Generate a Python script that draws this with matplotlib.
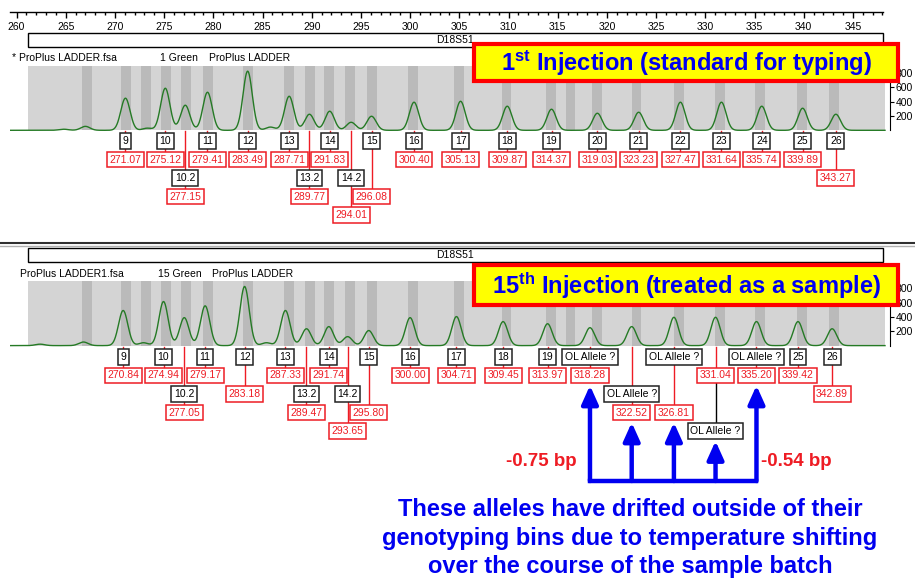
import matplotlib
matplotlib.use("Agg")
import numpy as np
from matplotlib import pyplot as plt
from matplotlib.patches import Rectangle
from matplotlib.transforms import blended_transform_factory
from matplotlib.ticker import MultipleLocator

plt.rcParams['font.family'] = ['Liberation Sans', 'DejaVu Sans']
plt.rcParams['mathtext.fontset'] = 'custom'
plt.rcParams['mathtext.rm'] = 'Liberation Sans:bold'
plt.rcParams['mathtext.it'] = 'Liberation Sans:bold'
plt.rcParams['mathtext.bf'] = 'Liberation Sans:bold'

# ---- data ----
marker = "D18S51"

ladder1_alleles = ["9", "10", "10.2", "11", "12", "13", "13.2", "14", "14.2", "15", "16",
                   "17", "18", "19", "20", "21", "22", "23", "24", "25", "26"]
ladder1_sizes = [271.07, 275.12, 277.15, 279.41, 283.49, 287.71, 289.77, 291.83, 294.01, 296.08, 300.40,
                 305.13, 309.87, 314.37, 319.03, 323.23, 327.47, 331.64, 335.74, 339.89, 343.27]
ladder1_heights = [448, 587, 350, 531, 825, 475, 224, 266, 112, 196, 392,
                   405, 336, 294, 238, 252, 392, 392, 336, 308, 224]
ladder1_minor_sizes = [264.8, 267.0, 273.3, 285.8]
ladder1_minor_heights = [15, 55, 30, 45]

ladder15_alleles = ["9", "10", "10.2", "11", "12", "13", "13.2", "14", "14.2", "15", "16",
                    "17", "18", "19", "OL Allele ?", "OL Allele ?", "OL Allele ?", "OL Allele ?",
                    "OL Allele ?", "25", "26"]
ladder15_sizes = [270.84, 274.94, 277.05, 279.17, 283.18, 287.33, 289.47, 291.74, 293.65, 295.80, 300.00,
                  304.71, 309.45, 313.97, 318.28, 322.52, 326.81, 331.04, 335.20, 339.42, 342.89]
ladder15_heights = [490, 615, 390, 555, 825, 490, 235, 265, 125, 210, 390,
                    405, 335, 305, 250, 265, 395, 395, 335, 335, 235]
ladder15_minor_sizes = [262.4, 266.8, 272.9, 285.4]
ladder15_minor_heights = [20, 50, 40, 40]

bin_centers = [267.2, 271.1, 273.2, 275.2, 277.2, 279.5, 283.5, 287.7, 289.8, 291.8, 293.9, 296.1,
               300.3, 305.0, 309.8, 314.3, 316.3, 319.0, 323.0, 327.3, 331.5, 335.6, 339.8, 343.1]

drifted_sizes = [318.28, 322.52, 326.81, 331.04, 335.20]
drift_labels = ["-0.75 bp", "-0.54 bp"]

header1 = ["* ProPlus LADDER.fsa", "1 Green", "ProPlus LADDER"]
header15 = ["ProPlus LADDER1.fsa", "15 Green", "ProPlus LADDER"]
title1 = "$1^{st}$ Injection (standard for typing)"
title15 = "$15^{th}$ Injection (treated as a sample)"
note = "These alleles have drifted outside of their\ngenotyping bins due to temperature shifting\nover the course of the sample batch"

# ---- layout (label rows: allele box level, size box level) ----
ladder1_levels = [(0, 1), (0, 1), (2, 3), (0, 1), (0, 1), (0, 1), (2, 3), (0, 1), (2, 4), (0, 3), (0, 1),
                  (0, 1), (0, 1), (0, 1), (0, 1), (0, 1), (0, 1), (0, 1), (0, 1), (0, 1), (0, 2)]
ladder15_levels = [(0, 1), (0, 1), (2, 3), (0, 1), (0, 2), (0, 1), (2, 3), (0, 1), (2, 4), (0, 3), (0, 1),
                   (0, 1), (0, 1), (0, 1), (0, 1), (2, 3), (0, 3), (4, 1), (0, 1), (0, 1), (0, 2)]

W, H = 915, 588
PX_PER_BP = 9.84
X260_PX = 16.5
RFU_PER_PX = 200 / 14.33
SIGMA = 0.47
GREEN = '#257a25'
RED = '#ee1c24'
BLUE = '#0000f0'
FS = 7.5


def bp_at(px):
    return 260 + (px - X260_PX) / PX_PER_BP


def fy(py):
    return 1 - py / H


fig = plt.figure(figsize=(W / 100, H / 100), dpi=100)

# ruler on top
ax_r = fig.add_axes([10 / W, fy(12), (883 - 10) / W, 0.0005])
ax_r.set_xlim(bp_at(10), bp_at(883))
ax_r.set_yticks([])
for s in ['top', 'left', 'right']:
    ax_r.spines[s].set_visible(False)
ax_r.spines['bottom'].set_linewidth(1.0)
ax_r.xaxis.set_major_locator(MultipleLocator(5))
ax_r.xaxis.set_minor_locator(MultipleLocator(1))
ax_r.xaxis.set_major_formatter(lambda v, p: f"{v:.0f}")
ax_r.tick_params(axis='x', which='major', length=4.5, width=1, labelsize=FS, pad=3)
ax_r.tick_params(axis='x', which='minor', length=2.5, width=1)
ax_r.patch.set_visible(False)


def draw_panel(top_py, base_py, level0_py, box_py, head_py, header, header_x,
               alleles, sizes, heights, minor_sizes, minor_heights, levels):
    ax = fig.add_axes([10 / W, fy(base_py + 2), 880 / W, (base_py + 2 - top_py) / H])
    ytop = (base_py - top_py) * RFU_PER_PX
    ax.set_xlim(bp_at(10), bp_at(890))
    ax.set_ylim(-2 * RFU_PER_PX, ytop)
    for s in ['top', 'left', 'bottom']:
        ax.spines[s].set_visible(False)
    ax.spines['right'].set_bounds(0, ytop)
    ax.set_xticks([])
    ax.yaxis.tick_right()
    ax.set_yticks([200, 400, 600, 800])
    ax.tick_params(axis='y', length=3, labelsize=FS, pad=1)
    ax.patch.set_visible(False)

    g0, g1 = bp_at(28), bp_at(885)
    ax.add_patch(Rectangle((g0, 0), g1 - g0, ytop, fc='#d4d4d4', ec='none', zorder=0))
    for c in bin_centers:
        ax.add_patch(Rectangle((c - 0.5, 0), 1.0, ytop, fc='#bababa', ec='none', zorder=0.5))

    x = np.linspace(bp_at(10), bp_at(885), 4000)
    y = np.zeros_like(x)
    for s, h in zip(list(sizes) + minor_sizes, list(heights) + minor_heights):
        y += h * np.exp(-0.5 * ((x - s) / SIGMA) ** 2)
    ax.plot(x, y, color=GREEN, lw=1.0, zorder=2)

    trans = blended_transform_factory(ax.transData, fig.transFigure)
    for a, s, (la, ls) in zip(alleles, sizes, levels):
        ya = fy(level0_py + 18.5 * la)
        ys = fy(level0_py + 18.5 * ls)
        ax.plot([s, s], [fy(base_py + 1), ys], color=RED, lw=1.0, transform=trans, clip_on=False, zorder=3)
        if la > ls:
            ax.plot([s, s], [ys, ya], color='black', lw=1.0, transform=trans, clip_on=False, zorder=3)
        ax.text(s, ya, a, transform=trans, ha='center', va='center', fontsize=FS, color='black', zorder=5,
                bbox=dict(boxstyle='square,pad=0.25', fc='white', ec='#222222', lw=1.1))
        ax.text(s, ys, f"{s:.2f}", transform=trans, ha='center', va='center', fontsize=FS, color=RED, zorder=5,
                bbox=dict(boxstyle='square,pad=0.25', fc='white', ec=RED, lw=1.1))

    # marker box
    fig.add_artist(Rectangle((28 / W, fy(box_py + 14)), (883 - 28) / W, 14 / H, transform=fig.transFigure,
                             fc='white', ec='black', lw=1.0, zorder=0.5))
    fig.text(455 / W, fy(box_py + 7), marker, ha='center', va='center', fontsize=FS)
    for t, hx in zip(header, header_x):
        fig.text(hx / W, fy(head_py), t, ha='left', va='center', fontsize=FS)
    return ax, trans


ax1, tr1 = draw_panel(66, 130.3, 141, 33, 58, header1, [12, 160, 209],
                      ladder1_alleles, ladder1_sizes, ladder1_heights,
                      ladder1_minor_sizes, ladder1_minor_heights, ladder1_levels)
ax2, tr2 = draw_panel(281, 345.6, 357, 248, 274, header15, [20, 158, 212],
                      ladder15_alleles, ladder15_sizes, ladder15_heights,
                      ladder15_minor_sizes, ladder15_minor_heights, ladder15_levels)

# separator between the two injections
fig.add_artist(plt.Line2D([0, 1], [fy(243), fy(243)], transform=fig.transFigure, color='#303030', lw=1.5))
fig.add_artist(plt.Line2D([0, 1], [fy(245.5), fy(245.5)], transform=fig.transFigure, color='#b0b0b0', lw=1.0))

# yellow title boxes
for (y0, y1), title in zip([(42, 83), (263, 307)], [title1, title15]):
    fig.add_artist(Rectangle((474 / W, fy(y1 - 2)), (898 - 474) / W, (y1 - y0 - 4) / H,
                             transform=fig.transFigure, fc='#ffff00', ec='#ff0000', lw=3.0, zorder=4))
    fig.text(686 / W, fy((y0 + y1) / 2 + 1), title, ha='center', va='center', fontsize=17,
             fontweight='bold', color=BLUE, zorder=5)

# drift bracket with arrows to the off-ladder calls
bottom_py = 481
ax2.plot([drifted_sizes[0], drifted_sizes[-1]], [fy(bottom_py), fy(bottom_py)], transform=tr2,
         color=BLUE, lw=3.2, clip_on=False, solid_capstyle='projecting', zorder=6)
for s in drifted_sizes:
    la, ls = ladder15_levels[ladder15_sizes.index(s)]
    tip_py = 357 + 18.5 * max(la, ls) + 10
    ax2.annotate('', xy=(s, fy(tip_py)), xycoords=tr2, xytext=(s, fy(bottom_py)), textcoords=tr2,
                 arrowprops=dict(arrowstyle='-|>,head_length=1.0,head_width=0.45', color=BLUE, lw=3.2,
                                 mutation_scale=11, shrinkA=0, shrinkB=0), zorder=6)

fig.text(541 / W, fy(462), drift_labels[0], ha='center', va='center', fontsize=13.5, fontweight='bold', color=RED)
fig.text(796 / W, fy(462), drift_labels[1], ha='center', va='center', fontsize=13.5, fontweight='bold', color=RED)

fig.text(630 / W, fy(538), note, ha='center', va='center', fontsize=17, fontweight='bold', color=BLUE,
         linespacing=1.28)

plt.savefig("out.png", dpi=100)
